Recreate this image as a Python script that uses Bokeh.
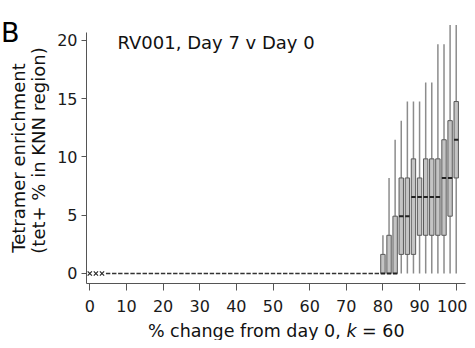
from bokeh.plotting import figure
from bokeh.models import Label, FixedTicker, Range1d
from bokeh.embed import file_html
from bokeh.resources import INLINE

# ---- data ----
# % change positions with no value (drawn as x)
na_x = [0.0, 1.67, 3.33]
# % change positions where every value is 0 (only median at 0)
zero_x = [5.0, 6.67, 8.33, 10.0, 11.67, 13.33, 15.0, 16.67, 18.33, 20.0,
          21.67, 23.33, 25.0, 26.67, 28.33, 30.0, 31.67, 33.33, 35.0, 36.67,
          38.33, 40.0, 41.67, 43.33, 45.0, 46.67, 48.33, 50.0, 51.67, 53.33,
          55.0, 56.67, 58.33, 60.0, 61.67, 63.33, 65.0, 66.67, 68.33, 70.0,
          71.67, 73.33, 75.0, 76.67, 78.33]
# boxes
box_x = [80.0, 81.67, 83.33, 85.0, 86.67, 88.33, 90.0, 91.67, 93.33, 95.0, 96.67, 98.33, 100.0]
low = [0, 0, 0, 0, 0, 0, 0, 0, 0, 0, 0, 0, 0]
q1 = [0, 0, 0, 1.64, 1.64, 1.64, 3.28, 3.28, 3.28, 3.28, 3.28, 4.92, 8.2]
med = [0, 0, 0, 4.92, 4.92, 6.56, 6.56, 6.56, 6.56, 6.56, 8.2, 8.2, 11.48]
q3 = [1.64, 3.28, 4.92, 8.2, 8.2, 9.84, 8.2, 9.84, 9.84, 9.84, 11.48, 13.12, 14.76]
high = [3.28, 8.2, 11.48, 13.12, 14.76, 14.76, 14.76, 16.4, 16.4, 19.68, 19.68, 21.32, 21.32]

x_ticks = [0, 10, 20, 30, 40, 50, 60, 70, 80, 90, 100]
y_ticks = [0, 5, 10, 15, 20]

FONT = "DejaVu Sans"
BW = 1.2  # box width in x units

# frame covers the whole canvas; axes sit at fixed locations inside it
X0, X1 = -24.37, 103.08
Y0, Y1 = -5.751, 23.433
XA, YA = -0.9, -0.858  # where the axes cross

p = figure(frame_width=467, frame_height=340,
           min_border_left=0, min_border_right=0, min_border_top=0, min_border_bottom=0,
           x_range=Range1d(X0, X1), y_range=Range1d(Y0, Y1),
           output_backend="svg", toolbar_location=None)
p.outline_line_color = None
p.xgrid.grid_line_color = None
p.ygrid.grid_line_color = None
p.background_fill_color = "white"
p.border_fill_color = "white"

# axes
for ax in (p.xaxis[0], p.yaxis[0]):
    ax.axis_line_color = "#555555"
    ax.axis_line_width = 1
    ax.major_tick_line_color = "#555555"
    ax.minor_tick_line_color = None
    ax.major_tick_in = 0
    ax.major_label_text_font = FONT
    ax.major_label_text_font_size = "16px"
    ax.major_label_text_color = "#1a1a1a"
p.xaxis.ticker = FixedTicker(ticks=x_ticks)
p.yaxis.ticker = FixedTicker(ticks=y_ticks)
p.xaxis.fixed_location = YA
p.yaxis.fixed_location = XA
p.xaxis.bounds = (XA, 102.54)
p.yaxis.bounds = (YA, 20.7)
p.xaxis.major_tick_out = 7
p.yaxis.major_tick_out = 5
p.xaxis.major_label_standoff = 10
p.yaxis.major_label_standoff = 4

# whiskers
p.segment(x0=box_x, y0=low, x1=box_x, y1=high, line_color="#8c8c8c", line_width=1.5)
# boxes
p.vbar(x=box_x, bottom=q1, top=q3, width=BW, fill_color="#c4c4c4",
       line_color="#5a5a5a", line_width=1)
# medians
bx0 = [v - BW / 2 for v in box_x]
bx1 = [v + BW / 2 for v in box_x]
p.segment(x0=bx0, y0=med, x1=bx1, y1=med, line_color="#222222", line_width=2)
# zero-only positions
zx0 = [v - BW / 2 for v in zero_x]
zx1 = [v + BW / 2 for v in zero_x]
zy = [0 for v in zero_x]
p.segment(x0=zx0, y0=zy, x1=zx1, y1=zy, line_color="#333333", line_width=1.5)
# missing positions
p.scatter(x=na_x, y=[0 for v in na_x], marker="x", size=6, line_color="#2a2a2a", line_width=1.2)

# texts
p.add_layout(Label(x=-24.2, y=20.71, text="B", text_font=FONT, text_font_size="27px",
                   text_color="black", text_align="left", text_baseline="alphabetic"))
p.add_layout(Label(x=7.56, y=19.85, text="RV001, Day 7 v Day 0", text_font=FONT,
                   text_font_size="18px", text_color="#111111", text_align="left",
                   text_baseline="alphabetic"))
# y title (two lines, rotated)
p.add_layout(Label(x=-19.38, y=9.91, text="Tetramer enrichment", angle=1.5708,
                   text_font=FONT, text_font_size="18px", text_color="#111111",
                   text_align="center", text_baseline="alphabetic"))
p.add_layout(Label(x=-13.92, y=10.56, text="(tet+ % in KNN region)", angle=1.5708,
                   text_font=FONT, text_font_size="18px", text_color="#111111",
                   text_align="center", text_baseline="alphabetic"))
# x title with italic k
p.add_layout(Label(x=70.03, y=-4.95, text="% change from day 0,", text_font=FONT,
                   text_font_size="17.5px", text_color="#111111", text_align="right",
                   text_baseline="alphabetic", x_offset=-5.6))
p.add_layout(Label(x=70.03, y=-4.95, text="k", text_font=FONT, text_font_style="italic",
                   text_font_size="17.5px", text_color="#111111", text_align="left",
                   text_baseline="alphabetic"))
p.add_layout(Label(x=74.31, y=-4.95, text="= 60", text_font=FONT,
                   text_font_size="17.5px", text_color="#111111", text_align="left",
                   text_baseline="alphabetic"))

open("out.html", "w").write(file_html(p, INLINE))
